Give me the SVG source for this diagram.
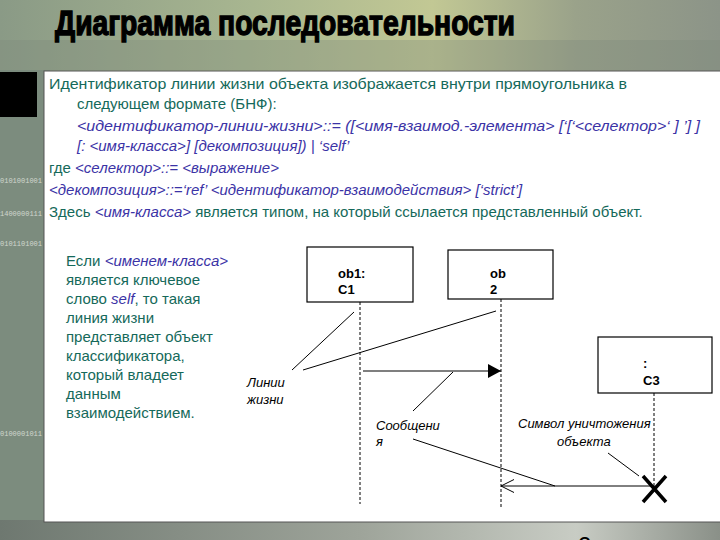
<svg xmlns="http://www.w3.org/2000/svg" width="720" height="540" viewBox="0 0 720 540">
<style>
.g{fill:#15695a;font-family:"Liberation Sans",Arial,sans-serif;font-size:15px}
.b{fill:#3b33a6;font-style:italic}
.lbl{font-family:"Liberation Sans",Arial,sans-serif;font-size:13px;font-style:italic;fill:#000}
.obj{font-family:"Liberation Sans",Arial,sans-serif;font-size:13px;font-weight:bold;fill:#000}
.box{fill:#fff;stroke:#000;stroke-width:1.2}
.life{stroke:#000;stroke-width:1;stroke-dasharray:3,2;fill:none}
.ann{stroke:#000;stroke-width:1;fill:none}
.bin{font-family:"Liberation Mono",monospace;font-size:7px;fill:#e4e8e0;opacity:0.8}
</style>
<defs>
<linearGradient id="bg" x1="0" y1="0" x2="1" y2="0">
<stop offset="0" stop-color="#8a9a86"/>
<stop offset="0.35" stop-color="#a8b690"/>
<stop offset="0.6" stop-color="#c2c894"/>
<stop offset="0.8" stop-color="#9aa28a"/>
<stop offset="1" stop-color="#8c9488"/>
</linearGradient>
<linearGradient id="bot" x1="0" y1="0" x2="1" y2="0">
<stop offset="0" stop-color="#6e7870"/>
<stop offset="0.5" stop-color="#9ea49a"/>
<stop offset="0.8" stop-color="#c8ccc4"/>
<stop offset="1" stop-color="#8a9088"/>
</linearGradient>
<marker id="fill" markerWidth="14" markerHeight="14" refX="13" refY="7" orient="auto" markerUnits="userSpaceOnUse">
<path d="M0,0 L13,7 L0,14 Z" fill="#000"/>
</marker>
<marker id="open" markerWidth="16" markerHeight="16" refX="14" refY="7" orient="auto" markerUnits="userSpaceOnUse">
<path d="M1,0.5 L14,7 L1,13.5" fill="none" stroke="#000" stroke-width="1"/>
</marker>
</defs>
<g id="background">
<rect x="0" y="0" width="720" height="540" fill="url(#bg)"/>
<rect x="0" y="40" width="720" height="30" fill="#7f8a7c" opacity="0.35"/>
<rect x="0" y="70" width="50" height="470" fill="#7c8c7e"/>
<rect x="0" y="520" width="720" height="20" fill="url(#bot)"/>
<rect x="0" y="72" width="37" height="45" fill="#000"/>
<text class="bin" x="0" y="183">0101001001</text>
<text class="bin" x="0" y="216">1400000111</text>
<text class="bin" x="0" y="246">0101101001</text>
<text class="bin" x="0" y="436">0100001011</text>
</g>
<g id="title">
<text x="55" y="35" textLength="460" lengthAdjust="spacingAndGlyphs" font-family="Liberation Sans,Arial,sans-serif" font-size="35" font-weight="bold" fill="#000" stroke="#000" stroke-width="1.4">Диаграмма последовательности</text>
</g>
<g id="panel">
<rect x="44" y="71" width="690" height="451" fill="#fff" stroke="#555" stroke-width="1"/>
</g>
<g id="description">
<text class="g" x="49" y="89" textLength="578" lengthAdjust="spacingAndGlyphs">Идентификатор линии жизни объекта изображается внутри прямоугольника в</text>
<text class="g" x="77" y="109">следующем формате (БНФ):</text>
<text class="g b" x="77" y="131" textLength="623" lengthAdjust="spacingAndGlyphs">&lt;идентификатор-линии-жизни&gt;::= ([&lt;имя-взаимод.-элемента&gt; [‘[‘&lt;селектор&gt;‘ ] ’] ]</text>
<text class="g b" x="77" y="151">[: &lt;имя-класса&gt;] [декомпозиция]) | ‘self’</text>
<text class="g" x="49" y="173">где <tspan class="b">&lt;селектор&gt;::= &lt;выражение&gt;</tspan></text>
<text class="g b" x="49" y="195">&lt;декомпозиция&gt;::=‘ref’ &lt;идентификатор-взаимодействия&gt; [‘strict’]</text>
<text class="g" x="49" y="217">Здесь <tspan class="b">&lt;имя-класса&gt;</tspan> является типом, на который ссылается представленный объект.</text>
</g>
<g id="note">
<text class="g" x="66" y="266">Если <tspan class="b">&lt;именем-класса&gt;</tspan></text>
<text class="g" x="66" y="285">является ключевое</text>
<text class="g" x="66" y="304">слово <tspan class="b">self</tspan>, то такая</text>
<text class="g" x="66" y="323">линия жизни</text>
<text class="g" x="66" y="342">представляет объект</text>
<text class="g" x="66" y="361">классификатора,</text>
<text class="g" x="66" y="380">который владеет</text>
<text class="g" x="66" y="399">данным</text>
<text class="g" x="66" y="418">взаимодействием.</text>
</g>
<g id="ob1">
<rect class="box" x="307" y="247" width="106" height="55"/>
<text class="obj" x="338" y="278">ob1:</text>
<text class="obj" x="338" y="294">C1</text>
</g>
<g id="ob2">
<rect class="box" x="448" y="250" width="105" height="49"/>
<text class="obj" x="490" y="278">ob</text>
<text class="obj" x="490" y="294">2</text>
</g>
<g id="c3">
<rect class="box" x="598" y="337" width="114" height="56"/>
<text class="obj" x="643" y="368">:</text>
<text class="obj" x="643" y="385">C3</text>
</g>
<g id="destroy">
<path d="M643,476 L666,502 M666,476 L643,502" stroke="#000" stroke-width="3.5" fill="none"/>
</g>
<g id="labels">
<text class="lbl" x="247" y="387">Линии</text>
<text class="lbl" x="247" y="404">жизни</text>
<text class="lbl" x="376" y="430">Сообщени</text>
<text class="lbl" x="376" y="446">я</text>
<text class="lbl" x="518" y="428">Символ уничтожения</text>
<text class="lbl" x="557" y="446">объекта</text>
<text x="578" y="554" font-family="Liberation Sans,Arial,sans-serif" font-size="24" fill="#000">2</text>
</g>
<g id="connectors">
<line class="life" x1="360" y1="302" x2="360" y2="504"/>
<line class="life" x1="501" y1="299" x2="501" y2="508"/>
<line class="life" x1="654" y1="393" x2="654" y2="487"/>
<line x1="363" y1="371" x2="501" y2="371" stroke="#000" stroke-width="1.2" marker-end="url(#fill)"/>
<line x1="654" y1="486" x2="501" y2="486" stroke="#000" stroke-width="1" marker-end="url(#open)"/>
<line class="ann" x1="292" y1="370" x2="354" y2="312"/>
<line class="ann" x1="303" y1="370" x2="496" y2="311"/>
<line class="ann" x1="413" y1="411" x2="453" y2="372"/>
<line class="ann" x1="413" y1="439" x2="555" y2="486"/>
<line class="ann" x1="608" y1="453" x2="639" y2="476"/>
</g>
</svg>
